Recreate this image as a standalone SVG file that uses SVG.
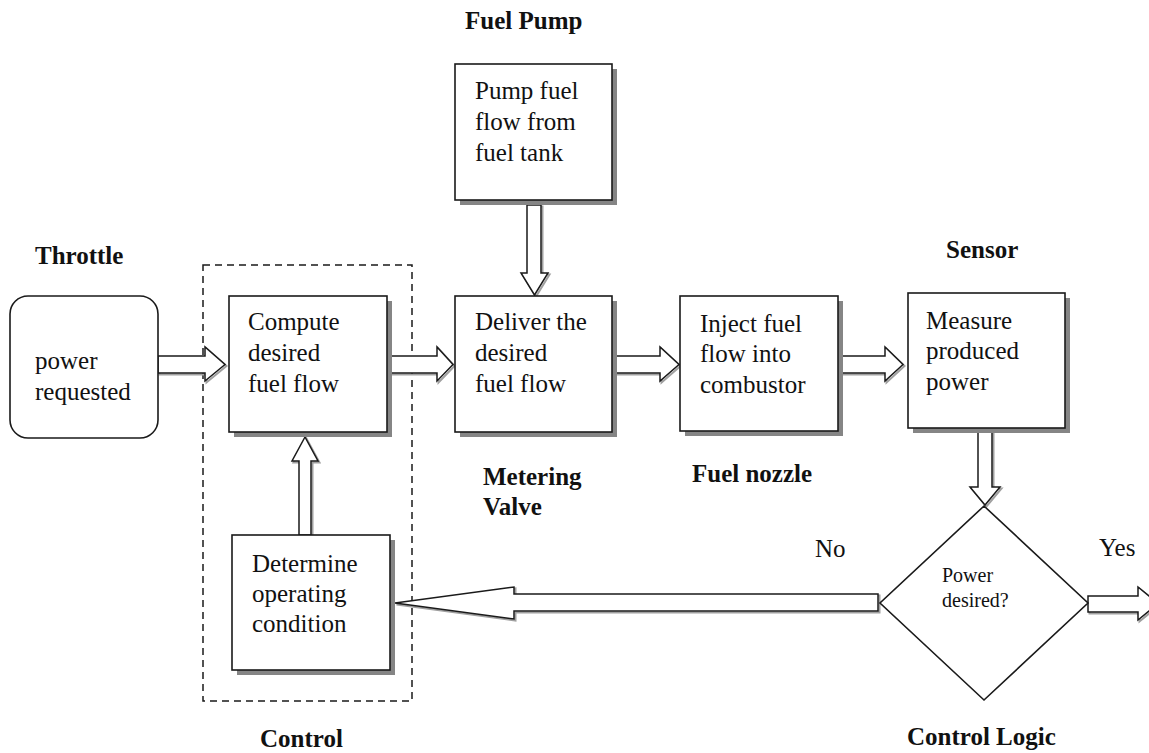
<svg xmlns="http://www.w3.org/2000/svg" width="1149" height="753" viewBox="0 0 1149 753">
<defs>
<style>
.box{fill:#fff;stroke:#1a1a1a;stroke-width:1.6}
.shadow{fill:#858585;stroke:none}
.t{font-family:"Liberation Serif","Times New Roman",serif;font-size:25px;fill:#111}
.b{font-family:"Liberation Serif","Times New Roman",serif;font-size:25px;font-weight:bold;fill:#111}
.s{font-family:"Liberation Serif","Times New Roman",serif;font-size:20px;fill:#111}
.arr{fill:#fff;stroke:#1a1a1a;stroke-width:1.5;stroke-linejoin:miter}
.arrsh{fill:none;stroke:#a0a0a0;stroke-width:2}
.dash{fill:none;stroke:#1a1a1a;stroke-width:1.5;stroke-dasharray:7,5}
.line{fill:#fff;stroke:#1a1a1a;stroke-width:1.6}
</style>
</defs>
<rect width="1149" height="753" fill="#fff"/>

<g id="control-group">
<rect class="dash" x="203" y="265" width="209" height="436"/>
<text class="b" x="260" y="747">Control</text>
</g>

<g id="connectors">
<g transform="translate(1.5,1.5)">
<polygon class="arrsh" points="158,356 205,356 205,347 225,364.5 205,381 205,373 158,373"/>
<polygon class="arrsh" points="387,356 437,356 437,347 453,364.5 437,381 437,373 387,373"/>
<polygon class="arrsh" points="612,356 660,356 660,347 679,364.5 660,381 660,373 612,373"/>
<polygon class="arrsh" points="838,356 885,356 885,347 903,364.5 885,381 885,373 838,373"/>
<polygon class="arrsh" points="527,205 541,205 541,273 548,273 534.5,295 521,273 527,273"/>
<polygon class="arrsh" points="978,430 992,430 992,487 1000,487 985,505 970,487 978,487"/>
<polygon class="arrsh" points="878,594 514,594 514,587 395,603 514,619 514,611 878,611"/>
<polygon class="arrsh" points="1088,596 1138,596 1138,587 1158,603.5 1138,620 1138,612 1088,612"/>
<polygon class="arrsh" points="299,535 299,461 292,461 305,437 318,461 311,461 311,535"/>
</g>
<polygon class="arr" points="158,356 205,356 205,347 225,364.5 205,381 205,373 158,373"/>
<polygon class="arr" points="387,356 437,356 437,347 453,364.5 437,381 437,373 387,373"/>
<polygon class="arr" points="612,356 660,356 660,347 679,364.5 660,381 660,373 612,373"/>
<polygon class="arr" points="838,356 885,356 885,347 903,364.5 885,381 885,373 838,373"/>
<polygon class="arr" points="527,205 541,205 541,273 548,273 534.5,295 521,273 527,273"/>
<polygon class="arr" points="978,430 992,430 992,487 1000,487 985,505 970,487 978,487"/>
<polygon class="arr" points="878,594 514,594 514,587 395,603 514,619 514,611 878,611"/>
<polygon class="arr" points="1088,596 1138,596 1138,587 1158,603.5 1138,620 1138,612 1088,612"/>
<polygon class="arr" points="299,535 299,461 292,461 305,437 318,461 311,461 311,535"/>
<text class="t" x="815" y="557">No</text>
<text class="t" x="1099" y="556">Yes</text>
</g>

<g id="throttle">
<text class="b" x="35" y="264">Throttle</text>
<rect class="line" x="10" y="296" width="148" height="142" rx="18"/>
<text class="t" x="35" y="369">power</text>
<text class="t" x="35" y="400">requested</text>
</g>

<g id="compute">
<rect class="shadow" x="234" y="301" width="158" height="136"/>
<rect class="box" x="229" y="296" width="158" height="136"/>
<text class="t" x="248" y="330">Compute</text>
<text class="t" x="248" y="361">desired</text>
<text class="t" x="248" y="392">fuel flow</text>
</g>

<g id="fuel-pump">
<text class="b" x="465" y="29">Fuel Pump</text>
<rect class="shadow" x="460" y="69" width="157" height="136"/>
<rect class="box" x="455" y="64" width="157" height="136"/>
<text class="t" x="475" y="99">Pump fuel</text>
<text class="t" x="475" y="130">flow from</text>
<text class="t" x="475" y="161">fuel tank</text>
</g>

<g id="metering-valve">
<rect class="shadow" x="460" y="301" width="157" height="136"/>
<rect class="box" x="455" y="296" width="157" height="136"/>
<text class="t" x="475" y="330">Deliver the</text>
<text class="t" x="475" y="361">desired</text>
<text class="t" x="475" y="392">fuel flow</text>
<text class="b" x="483" y="485">Metering</text>
<text class="b" x="483" y="515">Valve</text>
</g>

<g id="fuel-nozzle">
<rect class="shadow" x="685" y="301" width="158" height="135"/>
<rect class="box" x="680" y="296" width="158" height="135"/>
<text class="t" x="700" y="332">Inject fuel</text>
<text class="t" x="700" y="362">flow into</text>
<text class="t" x="700" y="393">combustor</text>
<text class="b" x="692" y="482">Fuel nozzle</text>
</g>

<g id="sensor">
<text class="b" x="946" y="258">Sensor</text>
<rect class="shadow" x="913" y="298" width="157" height="135"/>
<rect class="box" x="908" y="293" width="157" height="135"/>
<text class="t" x="926" y="329">Measure</text>
<text class="t" x="926" y="359">produced</text>
<text class="t" x="926" y="390">power</text>
</g>

<g id="determine">
<rect class="shadow" x="237" y="540" width="158" height="135"/>
<rect class="box" x="232" y="535" width="158" height="135"/>
<text class="t" x="252" y="572">Determine</text>
<text class="t" x="252" y="602">operating</text>
<text class="t" x="252" y="632">condition</text>
</g>

<g id="control-logic">
<polygon class="line" points="984,506 1088,603 984,700 880,603"/>
<text class="s" x="942" y="582">Power</text>
<text class="s" x="942" y="607">desired?</text>
<text class="b" x="907" y="745">Control Logic</text>
</g>
</svg>
